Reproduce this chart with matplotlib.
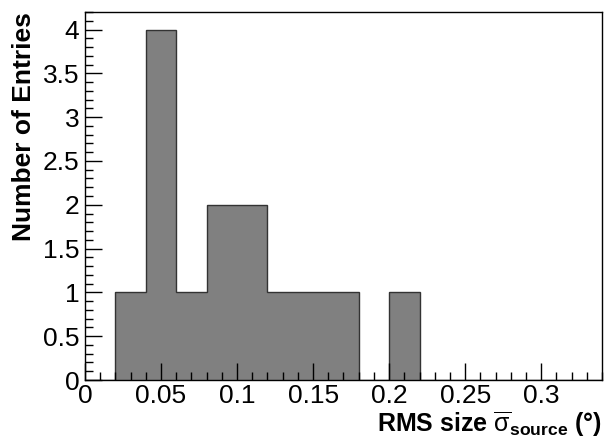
import numpy as np
import matplotlib
matplotlib.use("Agg")
import matplotlib.pyplot as plt
from matplotlib.ticker import MultipleLocator

plt.rcParams['font.family'] = ['Liberation Sans', 'DejaVu Sans']
plt.rcParams['mathtext.fontset'] = 'custom'
plt.rcParams['mathtext.rm'] = 'Liberation Sans'
plt.rcParams['mathtext.bf'] = 'Liberation Sans:bold'
plt.rcParams['mathtext.it'] = 'Liberation Sans:italic'

bin_edges = np.round(np.arange(0, 0.34 + 1e-9, 0.02), 2)
counts = [0, 1, 4, 1, 2, 2, 1, 1, 1, 0, 1, 0, 0, 0, 0, 0, 0]
x_label = r'RMS size $\overline{\mathrm{\sigma}}_{\mathbf{source}}$ (°)'
y_label = 'Number of Entries'

fig = plt.figure(figsize=(6.07, 4.38), dpi=100)
ax = fig.add_axes([85/607, 1-380/438, (602-85)/607, (380-12)/438])

ax.stairs(counts, bin_edges, fill=True, color='#808080', baseline=0)
ax.stairs(counts, bin_edges, fill=False, color='#333333', linewidth=1.0, baseline=0)

ax.set_xlim(0, 0.34)
ax.set_ylim(0, 4.2)
ax.xaxis.set_minor_locator(MultipleLocator(0.01))
ax.yaxis.set_minor_locator(MultipleLocator(0.1))
ax.set_xticks([0, 0.05, 0.1, 0.15, 0.2, 0.25, 0.3])
ax.set_xticklabels(['0', '0.05', '0.1', '0.15', '0.2', '0.25', '0.3'])
ax.set_yticks([0, 0.5, 1, 1.5, 2, 2.5, 3, 3.5, 4])
ax.set_yticklabels(['0', '0.5', '1', '1.5', '2', '2.5', '3', '3.5', '4'])

ax.tick_params(which='both', direction='in', top=False, right=False, labelsize=19, width=1, colors='black')
ax.tick_params(which='major', length=12)
ax.tick_params(which='minor', length=6)
ax.tick_params(axis='x', pad=3)
ax.tick_params(axis='y', pad=4)
for s in ax.spines.values():
    s.set_linewidth(1.0)

ax.set_xlabel(x_label, fontsize=18, fontweight='bold', loc='right', labelpad=1)
ax.set_ylabel(y_label, fontsize=19, fontweight='bold', loc='top', labelpad=5)

fig.savefig('out.png', dpi=100)
